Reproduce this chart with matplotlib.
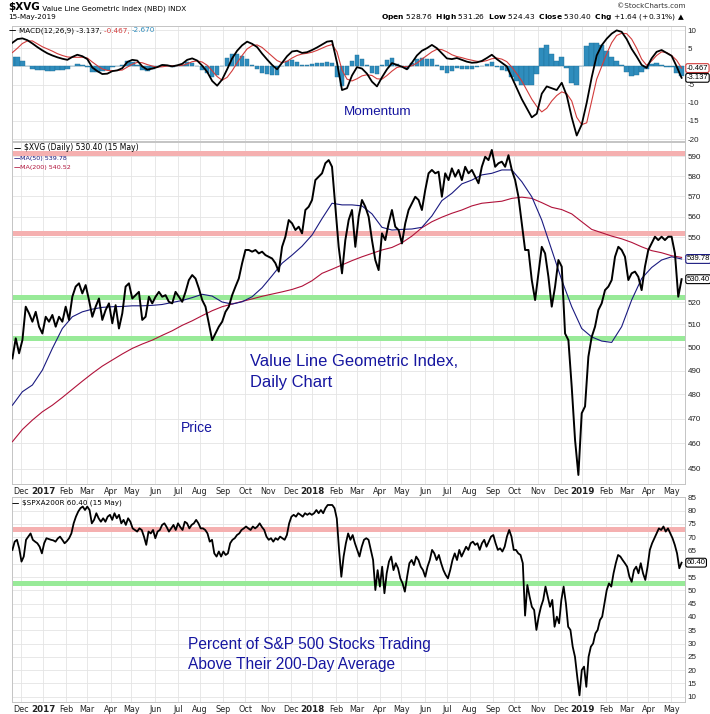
import numpy as np
import pandas as pd
import matplotlib
matplotlib.use("Agg")
import matplotlib.pyplot as plt
from matplotlib.text import Annotation
from matplotlib.ticker import FixedLocator, NullLocator

# ---------------- data ----------------
first_day = "2016-11-21"
last_day = "2019-05-15"

# $XVG daily close (evenly spaced readings, first to last day)
price = [
    495.2, 503.9, 497.4, 503.1, 517.9, 514.9, 511.2, 515.6, 509.0, 506.0,
    513.4, 511.2, 514.2, 509.0, 513.4, 511.2, 517.9, 512.0, 522.4, 527.0,
    528.5, 523.9, 527.7, 520.9, 513.4, 517.9, 521.6, 512.0, 516.4, 519.4,
    510.5, 518.6, 508.2, 514.9, 527.0, 528.5, 521.6, 523.1, 524.6, 512.0,
    513.4, 522.4, 519.4, 522.4, 524.6, 522.4, 523.1, 520.1, 519.4, 524.6,
    522.4, 520.1, 524.6, 530.0, 532.3, 530.7, 526.2, 520.9, 517.9, 510.5,
    503.1, 506.0, 509.0, 511.2, 515.6, 517.9, 523.1, 527.0, 530.7, 537.8,
    544.0, 544.0, 543.2, 544.0, 542.4, 543.2, 541.6, 540.8, 540.0, 537.8,
    533.9, 545.5, 550.3, 558.3, 556.7, 553.5, 555.1, 551.9, 563.2, 564.8,
    568.1, 578.0, 579.7, 581.4, 586.5, 588.1,
    584.7, 564.8, 545.5, 533.1, 548.7, 558.3, 563.2, 545.5, 559.9, 568.1,
    564.8, 559.9, 548.7, 539.3, 534.6, 551.9, 548.7, 556.7, 563.2, 555.1,
    553.5, 547.1, 556.7, 563.2, 566.5, 569.7, 568.1, 563.2, 573.0, 581.4,
    583.1, 581.4, 582.2, 569.7, 581.4, 578.0, 583.9, 579.7, 583.1, 578.0,
    584.7, 581.4, 583.1, 579.7, 576.4, 584.7, 589.8, 588.1, 593.3, 584.7,
    586.5, 587.3, 584.7, 590.6, 583.1, 578.0, 569.7, 556.7, 544.0, 544.0,
    530.0, 520.9, 533.1, 545.5, 542.4, 531.5, 517.9, 527.0, 539.3, 536.2,
    506.0, 503.1, 483.1, 461.4, 447.6, 472.2, 475.0, 495.9, 504.5, 509.0,
    516.4, 519.4, 525.4, 527.0, 530.0, 540.8, 545.5, 544.0, 540.8, 530.0,
    533.1, 533.9, 531.5, 525.4, 536.2, 544.0, 547.1, 550.3, 548.7, 550.3,
    548.7, 550.3, 550.3, 542.4, 522.4, 530.4,
]
ma50 = [
    475.5, 481.1, 483.9, 490.2, 499.5, 508.2, 513.4, 515.6, 516.8, 517.6,
    517.9, 518.0, 518.3, 518.3, 518.5, 518.9, 519.8, 520.7, 522.0, 523.5,
    522.7, 520.0, 519.1, 520.1, 522.4, 526.5, 532.0, 537.8, 541.6, 545.8,
    551.1, 559.0, 566.5, 565.7, 565.7, 565.2, 561.3, 554.8, 553.5, 553.8,
    554.0, 554.8, 560.3, 567.8, 571.4, 576.1, 578.0, 580.6, 581.4, 583.1,
    583.1, 577.2, 569.7, 558.3, 544.0, 530.0, 517.9, 508.2, 504.5, 502.7,
    502.1, 509.0, 520.9, 530.7, 535.8, 539.3, 540.8, 539.78,
]
ma200 = [
    460.7, 465.6, 469.4, 472.8, 475.5, 478.7, 482.1, 485.5, 488.8, 491.9,
    494.5, 497.1, 499.5, 501.4, 503.1, 505.2, 507.2, 509.6, 511.6, 513.9,
    516.1, 517.9, 519.1, 520.3, 521.4, 522.6, 523.6, 524.6, 525.7, 527.2,
    529.7, 533.1, 535.0, 537.0, 539.0, 540.8, 542.4, 544.0, 545.2, 547.4,
    550.6, 554.6, 557.5, 559.7, 561.6, 563.2, 565.2, 566.5, 567.0, 567.5,
    568.9, 569.5, 568.9, 566.8, 564.5, 563.4, 561.3, 557.5, 553.8, 552.2,
    550.6, 549.3, 547.6, 545.5, 543.7, 542.7, 541.3, 540.52,
]
macd = [
    6.5, 7.5, 7.7, 7.2, 6.3, 5.3, 4.4, 3.6, 3.0, 2.5,
    2.1, 1.8, 2.6, 3.2, 2.8, 2.0, -0.3, -1.3, -2.1, -2.0,
    -1.3, -1.1, -0.5, 1.2, 1.8, 1.6, 0.0, -0.9, -0.6, -0.2,
    0.4, 0.3, 0.0, 0.3, 0.7, 1.8, 2.2, 1.6, 0.2, -1.5,
    -4.0, -5.3, -3.6, -0.8, 2.2, 4.3, 5.8, 6.8, 6.2, 5.3,
    3.5, 1.9, 0.4, -0.8, 1.0, 2.8, 4.1, 4.3, 3.7, 3.9,
    4.5, 5.2, 6.0, 6.8, 7.0, 1.0, -6.5, -6.0, -2.5, -0.2,
    -0.6, -2.0, -4.2, -5.5, -3.0, -0.8, 0.9, 0.4, -0.1, -0.8,
    1.0, 3.0, 4.3, 5.0, 5.9, 5.0, 3.6, 2.2, 2.0, 2.3,
    1.8, 1.3, 1.0, 1.1, 1.5, 2.3, 3.2, 2.0, 1.0, 0.0,
    -3.0, -6.0, -9.0, -11.5, -14.0, -13.0, -7.5, -5.5, -6.0, -6.5,
    -4.5, -8.0, -14.0, -19.0, -16.0, -10.0, -3.0, 3.0, 5.8, 7.6,
    9.0, 9.9, 9.5, 7.5, 4.8, 2.7, 0.4, -0.4, 2.2, 4.0,
    4.5, 3.7, 2.9, 0.0, -3.137,
]
signal = [
    3.8, 5.0, 6.3, 7.0, 7.0, 6.2, 5.4, 4.8, 4.2, 3.5,
    3.0, 2.6, 2.5, 2.5, 2.5, 2.3, 1.2, 0.2, -0.7, -1.1,
    -1.2, -1.1, -1.0, -0.2, 0.6, 1.1, 1.0, 0.5, 0.1, -0.2,
    -0.1, 0.1, 0.2, 0.2, 0.3, 0.7, 1.3, 1.5, 1.2, 0.3,
    -1.2, -2.8, -3.8, -3.0, -1.2, 1.0, 3.0, 4.8, 5.7, 5.9,
    5.2, 4.0, 2.8, 1.6, 1.0, 1.4, 2.3, 3.0, 3.4, 3.6,
    3.9, 4.4, 5.0, 5.6, 6.0, 4.0, -1.0, -3.5, -4.0, -3.4,
    -2.6, -2.3, -2.5, -3.4, -3.5, -2.5, -1.3, -0.3, 0.0, -0.1,
    0.2, 0.9, 2.0, 3.0, 4.0, 4.7, 4.6, 4.0, 3.2, 2.7,
    2.4, 2.0, 1.7, 1.4, 1.3, 1.6, 2.1, 2.3, 2.0, 1.3,
    -0.2, -2.0, -4.0, -6.5, -9.0, -11.0, -12.5, -11.5, -9.5, -8.0,
    -7.0, -7.5, -9.5, -14.0, -16.0, -15.5, -9.5, -3.5, 0.0, 3.5,
    6.5, 8.5, 9.1, 9.0, 7.5, 5.0, 2.0, 0.3, 1.5, 3.0,
    4.0, 3.8, 3.0, 1.7, -0.467,
]
# $SPXA200R, percent of S&P 500 stocks above their 200-day average
spxa200r = [
    65.2, 68.3, 69.0, 65.8, 60.8, 62.7, 69.0, 70.2, 71.4, 69.0,
    68.3, 67.7, 66.4, 63.9, 67.7, 69.6, 69.3, 69.0, 68.8, 68.3,
    69.5, 70.2, 69.0, 67.7, 68.5, 69.6, 71.4, 75.2, 77.7, 79.6,
    80.9, 81.5, 80.2, 81.5, 80.2, 75.2, 76.5, 79.0, 77.1, 75.8,
    77.1, 75.8, 77.7, 78.4, 76.5, 79.0, 77.1, 78.4, 75.2, 76.5,
    74.6, 77.1, 75.8, 73.3, 72.7, 72.1, 73.3, 72.7, 70.2, 67.1,
    72.1, 71.4, 72.7, 69.6, 72.1, 72.7, 74.6, 75.2, 73.8, 72.1,
    73.3, 74.6, 72.7, 75.2, 73.8, 72.7, 75.8, 75.2, 73.3, 74.6,
    75.2, 76.5, 75.2, 73.3, 73.3, 72.7, 71.4, 68.3, 69.0, 63.9,
    62.7, 64.6, 62.7, 64.6, 63.3, 63.9, 67.7, 69.0, 69.6, 70.8,
    71.4, 72.7, 73.3, 74.0, 73.3, 72.7, 74.0, 73.3, 74.0, 75.2,
    73.8, 72.7, 70.2, 69.0, 69.6, 68.3, 69.6, 69.0, 70.2, 69.6,
    69.0, 70.8, 75.2, 77.7, 78.4, 77.7, 79.0, 78.4, 77.7, 79.0,
    78.4, 79.0, 78.4, 79.0, 80.2, 79.0, 80.2, 79.0, 80.9, 82.1,
    82.1, 82.1, 80.9, 77.0, 65.2, 55.1, 62.7, 67.7, 71.4, 69.0,
    70.8, 67.7, 65.2, 62.7, 66.4, 69.0, 69.6, 69.0, 65.2, 61.4,
    50.1, 57.6, 51.4, 58.9, 48.9, 56.4, 60.8, 62.7, 57.6, 60.2,
    58.3, 54.5, 52.6, 49.5, 55.1, 60.2, 61.4, 59.5, 62.7, 61.4,
    58.9, 57.6, 55.1, 58.9, 61.4, 65.2, 63.9, 61.4, 63.3, 60.2,
    57.6, 55.8, 54.5, 57.6, 61.4, 63.9, 61.4, 65.2, 62.7, 64.6,
    66.4, 65.2, 67.7, 68.3, 67.1, 67.7, 65.2, 67.7, 69.0, 66.4,
    68.3, 70.2, 70.8, 67.7, 65.2, 65.8, 64.6, 66.4, 70.2, 72.7,
    70.2, 65.2, 65.2, 63.9, 63.3, 60.2, 40.5, 52.0, 47.6, 43.8,
    42.6, 35.1, 40.1, 43.8, 46.4, 51.4, 47.6, 43.8, 46.4, 36.3,
    40.1, 37.6, 46.4, 51.4, 45.1, 36.3, 35.1, 28.8, 25.0, 17.5,
    10.5, 20.0, 21.3, 13.7, 25.0, 28.8, 30.0, 33.8, 35.1, 38.8,
    40.1, 45.1, 50.1, 52.6, 51.4, 56.4, 60.2, 63.3, 62.7, 61.4,
    60.2, 58.9, 55.1, 53.2, 57.6, 58.9, 56.4, 60.2, 56.4, 53.9,
    58.9, 65.2, 67.7, 69.6, 71.4, 73.3, 72.7, 74.0, 72.1, 73.3,
    71.4, 69.6, 67.1, 63.9, 58.3, 60.4,
]

price_red = [591.5, 552.0]
price_green = [522.2, 503.9]
breadth_red = [73.2]
breadth_green = [52.6]

# ---------------- time axis (trading-day index) ----------------
days = pd.bdate_range(first_day, last_day)
last = len(days) - 1
months = pd.date_range("2016-12-01", "2019-05-01", freq="MS")
tick_idx = days.searchsorted(months)
tick_lab = [str(m.year) if m.month == 1 else m.strftime("%b") for m in months]

xp = np.linspace(0, last, len(price))
xma = np.linspace(0, last, len(ma50))
xm = np.linspace(0, last, len(macd))
xb = np.linspace(0, last, len(spxa200r))
hist = np.array(macd) - np.array(signal)

# ---------------- figure ----------------
W, H = 710, 714
fig = plt.figure(figsize=(W / 100, H / 100), dpi=100)
arial = ["Liberation Sans", "DejaVu Sans"]

def pane(top, bottom):
    return fig.add_axes([12 / W, 1 - bottom / H, 673 / W, (bottom - top) / H])

def style(ax, labels):
    for s in ax.spines.values():
        s.set_color("#c4c4c4")
        s.set_linewidth(0.7)
    ax.grid(True, color="#e4e4e4", lw=0.6)
    ax.set_axisbelow(True)
    ax.yaxis.tick_right()
    ax.tick_params(length=0, labelsize=5.8, pad=2, colors="#222222")
    ax.set_xlim(-0.4, last + 3.3)
    ax.set_xticks(tick_idx)
    if labels:
        ax.set_xticklabels(tick_lab)
        for t in ax.get_xticklabels():
            if t.get_text().isdigit():
                t.set_fontweight("bold")
                t.set_fontsize(6.3)
    else:
        ax.set_xticklabels([])

def yticks(ax, vals, hidden):
    ax.yaxis.set_major_locator(FixedLocator(vals))
    ax.yaxis.set_minor_locator(NullLocator())
    ax.set_yticklabels(["" if v in hidden else str(v) for v in vals],
                       family=arial, fontsize=5.8)

def tag(ax, y, text, color):
    ax.annotate(text, xy=(1, y), xycoords=("axes fraction", "data"),
                xytext=(1.2, 0), textcoords="offset points", ha="left", va="center",
                fontsize=5.5, family=arial, color="black", annotation_clip=False,
                bbox=dict(boxstyle="round,pad=0.12,rounding_size=0.25",
                          fc="white", ec=color, lw=0.8))

def chain(x, y, pieces):
    # pieces: (text, color, size, weight) drawn one after another on a line
    t0, c0, s0, w0 = pieces[0]
    prev = fig.text(x / W, 1 - y / H, t0, color=c0, fontsize=s0, fontweight=w0,
                    ha="left", va="center", zorder=5)
    for t, c, s, w in pieces[1:]:
        a = Annotation(t, xy=(1, 0), xycoords=prev, va="bottom", ha="left",
                       color=c, fontsize=s, fontweight=w, zorder=5)
        fig.add_artist(a)
        prev = a
    return prev

# ---- MACD panel ----
ax1 = pane(26, 141)
style(ax1, False)
step = last / (len(macd) - 1)
ax1.bar(xm, hist, width=step * 0.92, color="#2f8dbd", edgecolor="#1d6f98",
        lw=0.3, zorder=2)
ax1.plot(xm, signal, color="#d23c3c", lw=0.8, zorder=3)
ax1.plot(xm, macd, color="black", lw=1.3, zorder=4)
ax1.set_ylim(-20.5, 11.1)
yticks(ax1, [-20, -15, -10, -5, 0, 5, 10], [0])
tag(ax1, signal[-1], "-0.467", "#d23c3c")
tag(ax1, macd[-1], "-3.137", "black")

# ---- price panel ----
ax2 = pane(142, 484)
style(ax2, True)
ax2.set_yscale("log")
for v in price_red:
    ax2.axhline(v, color="#f5b0b0", lw=3.6, zorder=1)
for v in price_green:
    ax2.axhline(v, color="#98ea98", lw=3.6, zorder=1)
ax2.plot(xma, ma200, color="#b0123a", lw=0.8, zorder=3)
ax2.plot(xma, ma50, color="#1a1a80", lw=0.8, zorder=3)
ax2.plot(xp, price, color="black", lw=1.4, zorder=4)
ax2.set_ylim(444.1, 597.4)
yticks(ax2, list(range(450, 600, 10)), [530, 540])
tag(ax2, ma50[-1], "539.78", "#1a1a80")
tag(ax2, price[-1], "530.40", "black")

# ---- breadth panel ----
ax3 = pane(497, 702)
style(ax3, True)
for v in breadth_red:
    ax3.axhline(v, color="#f5b0b0", lw=3.6, zorder=1)
for v in breadth_green:
    ax3.axhline(v, color="#98ea98", lw=3.6, zorder=1)
ax3.plot(xb, spxa200r, color="black", lw=1.3, zorder=4)
ax3.set_ylim(8.0, 85.1)
yticks(ax3, list(range(10, 90, 5)), [60])
tag(ax3, spxa200r[-1], "60.40", "black")

# ---------------- texts ----------------
fs = 5.2
chain(8, 7, [("$XVG", "black", 7.5, "bold"),
             (" Value Line Geometric Index (NBD) INDX", "black", 5.2, "normal")])
fig.text(8 / W, 1 - 17.5 / H, "15-May-2019", fontsize=5.2, ha="left", va="center")
fig.text(685 / W, 1 - 5.5 / H, "\u00a9StockCharts.com", fontsize=5.2, ha="right",
         va="center", color="#333333")
fig.text(685 / W, 1 - 17 / H,
         r"$\mathbf{Open}$ 528.76  $\mathbf{High}$ 531.26  $\mathbf{Low}$ 524.43  "
         r"$\mathbf{Close}$ 530.40  $\mathbf{Chg}$ +1.64 (+0.31%) " + "\u25b2",
         fontsize=5.4, ha="right", va="center")

chain(9, 30.5, [("\u2014 ", "black", fs, "bold"),
                ("MACD(12,26,9) -3.137, ", "black", fs, "normal"),
                ("-0.467, ", "#d23c3c", fs, "normal"),
                ("-2.670", "#2f8dbd", fs, "normal")])
chain(14, 148.5, [("\u2014 ", "black", fs, "bold"),
                  ("$XVG (Daily) 530.40 (15 May)", "black", fs + 0.3, "normal")])
chain(14, 158.3, [("\u2014", "#1a1a80", 4.6, "bold"),
                  ("MA(50) 539.78", "#1a1a80", 4.6, "normal")])
chain(14, 167.7, [("\u2014", "#b0123a", 4.6, "bold"),
                  ("MA(200) 540.52", "#b0123a", 4.6, "normal")])
chain(12, 503, [("\u2014 ", "black", fs, "bold"),
                ("$SPXA200R 60.40 (15 May)", "black", fs, "normal")])

blue = "#1616a0"
def note(x, y, s, size):
    fig.text(x / W, 1 - y / H, s, fontsize=size, color=blue, family=arial,
             ha="left", va="center")

note(344, 112, "Momentum", 9.7)
note(250, 362, "Value Line Geometric Index,", 11.9)
note(250, 383, "Daily Chart", 11.9)
note(181, 428, "Price", 10.0)
note(188, 644, "Percent of S&P 500 Stocks Trading", 11.2)
note(188, 665, "Above Their 200-Day Average", 11.2)

fig.savefig("out.png", dpi=100)
